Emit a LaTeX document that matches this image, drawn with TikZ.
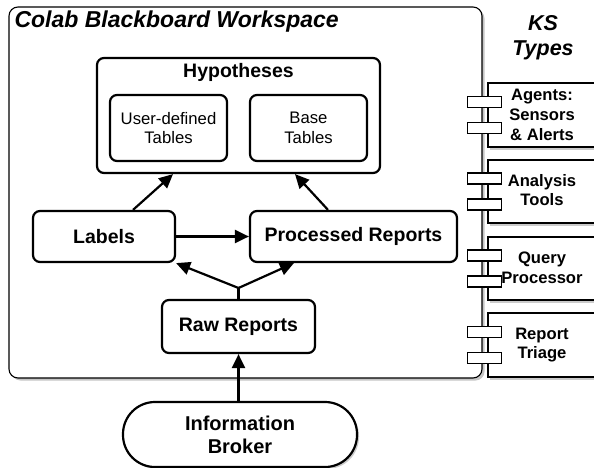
\documentclass[tikz,border=0pt]{standalone}
\usepackage{fontspec}
\setmainfont{Liberation Sans}
\usetikzlibrary{arrows.meta,calc,shadows,positioning}

\tikzset{
  workspace/.style={draw, line width=1.1pt, rounded corners=9pt, fill=white,
    drop shadow={shadow xshift=2.5pt, shadow yshift=-2.5pt, fill=black!45}},
  kbox/.style={draw, line width=2.2pt, rounded corners=7pt, fill=white,
    inner sep=0pt, align=center, font=\bfseries\fontsize{19.5}{22}\selectfont},
  tbox/.style={kbox, font=\fontsize{16.7}{19.5}\selectfont},
  kscomp/.style={draw, line width=1.4pt, fill=white, inner sep=0pt,
    drop shadow={shadow xshift=1.5pt, shadow yshift=-2.5pt, fill=black!40}},
  kstab/.style={draw, line width=1.2pt, fill=white, inner sep=0pt,
    minimum width=34pt, minimum height=11pt},
  kslabel/.style={align=center, font=\bfseries\fontsize{16.6}{19.7}\selectfont},
  link/.style={-{Triangle[length=14pt,width=13pt]}, line width=2.2pt},
}

\begin{document}
\begin{tikzpicture}[x=1pt, y=-1pt]
\clip (0,0) rectangle (594,468);
\fill[white] (0,0) rectangle (594,468);

% blackboard workspace
\node[workspace, minimum width=473pt, minimum height=371pt] (ws) at (245.5,192.5) {};
\node[anchor=west, font=\bfseries\itshape\fontsize{23}{26}\selectfont] (wstitle) at (11,21.5) {Colab Blackboard Workspace};

% KS types
\node[font=\bfseries\itshape\fontsize{21.5}{25}\selectfont, align=center] (kstitle) at (543,38) {KS\\Types};
\node[kscomp, minimum width=122pt, minimum height=64pt] (agents) at (549,115) {};
\node[kscomp, minimum width=122pt, minimum height=63pt] (tools) at (549,191.5) {};
\node[kscomp, minimum width=122pt, minimum height=63pt] (query) at (549,268.5) {};
\node[kscomp, minimum width=122pt, minimum height=64pt] (triage) at (549,345) {};
\foreach \c in {agents,tools,query,triage}{
  \node[kstab] (\c-t1) at ($(\c.west)+(-3,-13)$) {};
  \node[kstab] (\c-t2) at ($(\c.west)+(-3,13)$) {};
}
\node[kslabel] (agentstxt) at (542,115) {Agents:\\Sensors\\\& Alerts};
\node[kslabel] (toolstxt) at (542,190) {Analysis\\Tools};
\node[kslabel] (querytxt) at (542,268) {Query\\Processor};
\node[kslabel] (triagetxt) at (542,345) {Report\\Triage};

% hypotheses
\node[kbox, minimum width=283pt, minimum height=115pt] (hyp) at (238.5,115.5) {};
\node[font=\bfseries\fontsize{19.5}{22}\selectfont] (hyptitle) at (238.5,72) {Hypotheses};
\node[tbox, minimum width=117pt, minimum height=66pt] (user) at (168.5,128) {User-defined\\Tables};
\node[tbox, minimum width=117pt, minimum height=66pt] (base) at (308.5,128) {Base\\Tables};

% reports
\node[kbox, minimum width=142pt, minimum height=51pt] (lab) at (104,236.5) {Labels};
\node[kbox, minimum width=207pt, minimum height=51pt] (proc) at (353.5,236.5) {Processed Reports};
\node[kbox, minimum width=153pt, minimum height=53pt] (raw) at (238.5,326.5) {Raw Reports};
\node[kbox, rounded corners=32pt, minimum width=234pt, minimum height=65pt,
  font=\bfseries\fontsize{20}{23}\selectfont,
  drop shadow={shadow xshift=2pt, shadow yshift=-2pt, fill=black!40}] (broker) at (240,434.5) {Information\\Broker};
\coordinate (jn) at (238.5,288);

\draw[link] ($(lab.north)+(29,0)$) -- ($(hyp.south)+(-65.5,0)$);
\draw[link] ($(proc.north)+(-25.5,0)$) -- ($(hyp.south)+(56.5,0)$);
\draw[link] (lab.east) -- (proc.west);
\draw[line width=2.2pt] (raw.north) -- (jn);
\draw[link] (jn) -- (lab.south east);
\draw[link] (jn) -- ($(proc.south west)+(45,0)$);
\draw[link] (raw.south |- broker.north) -- (raw.south);
\end{tikzpicture}
\end{document}
